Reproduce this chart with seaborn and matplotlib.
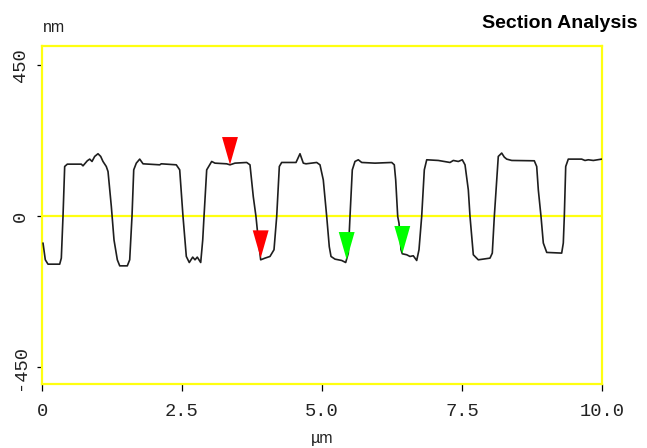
import matplotlib
matplotlib.use("Agg")
import matplotlib.pyplot as plt
from matplotlib.path import Path
from matplotlib.markers import MarkerStyle
import seaborn as sns
import pandas as pd

# ---- data -------------------------------------------------------------
profile_x = [0.018, 0.059, 0.107, 0.316, 0.345, 0.375, 0.405, 0.452, 0.702, 0.732,
             0.809, 0.852, 0.893, 0.941, 1.000, 1.048, 1.089, 1.148, 1.179, 1.238,
             1.286, 1.345, 1.388, 1.523, 1.566, 1.607, 1.638, 1.684, 1.745, 1.804,
             2.102, 2.130, 2.398, 2.459, 2.518, 2.577, 2.630, 2.691, 2.732, 2.773,
             2.834, 2.870, 2.893, 2.941, 3.030, 3.089, 3.298, 3.357, 3.446, 3.655,
             3.714, 3.773, 3.821, 3.863, 3.905, 3.982, 4.071, 4.143, 4.191, 4.238,
             4.280, 4.536, 4.607, 4.666, 4.714, 4.905, 4.964, 5.023, 5.084, 5.130,
             5.161, 5.232, 5.352, 5.423, 5.470, 5.500, 5.541, 5.589, 5.648, 5.709,
             5.946, 6.245, 6.291, 6.316, 6.352, 6.375, 6.411, 6.434, 6.513, 6.571,
             6.630, 6.691, 6.732, 6.780, 6.827, 6.870, 7.077, 7.286, 7.345, 7.434,
             7.505, 7.554, 7.613, 7.643, 7.702, 7.732, 7.791, 8.000, 8.041, 8.077,
             8.120, 8.148, 8.209, 8.255, 8.298, 8.388, 8.791, 8.834, 8.863, 8.911,
             8.952, 9.013, 9.280, 9.309, 9.327, 9.352, 9.398, 9.637, 9.696, 9.755,
             9.845, 9.995]
profile_nm = [-80, -130, -143, -143, -125, -1, 148, 155, 155, 150,
              165, 170, 163, 178, 186, 178, 163, 148, 133, 29,
              -71, -130, -148, -148, -130, -1, 138, 158, 170, 156,
              153, 156, 153, 138, -1, -120, -138, -122, -130, -122,
              -138, -71, -1, 138, 163, 158, 156, 153, 158, 160,
              153, 58, -1, -71, -130, -125, -120, -100, -1, 148,
              160, 160, 186, 158, 156, 160, 153, 108, -1, -91,
              -120, -128, -132, -138, -110, -1, 138, 163, 168, 160,
              158, 160, 153, 108, -1, -21, -100, -112, -115, -120,
              -118, -132, -100, -1, 138, 168, 166, 160, 166, 163,
              168, 153, 78, -1, -115, -120, -130, -125, -110, -1,
              108, 178, 188, 176, 170, 166, 165, 148, 78, -1,
              -80, -108, -110, -80, -1, 148, 170, 170, 166, 168,
              166, 170]

cursor_x = [3.357, 3.905, 5.441, 6.434]
cursor_nm = [153, -125, -130, -112]
cursor_pair = ["red", "red", "green", "green"]

x_ticks = [0, 2.5, 5.0, 7.5, 10.0]
x_tick_labels = ["0", "2.5", "5.0", "7.5", "10.0"]
y_ticks = [-450, 0, 450]
y_tick_labels = ["-450", "0", "450"]

title_text = "Section Analysis"
y_unit = "nm"
x_unit = "\u00b5m"

# ---- figure ------------------------------------------------------------
sns.set_style("white")
plt.rcParams["font.family"] = ["Liberation Mono", "DejaVu Sans"]

W, H = 647, 448
fig = plt.figure(figsize=(W / 100, H / 100), dpi=100)
fig.patch.set_facecolor("white")
ax = fig.add_axes([42 / W, 1 - 384 / H, 560 / W, 338 / H])
ax.set_facecolor("white")

yellow = "#ffff10"

df = pd.DataFrame({"x": profile_x, "nm": profile_nm})
sns.lineplot(data=df, x="x", y="nm", sort=False, estimator=None,
             color="#1e1e1e", linewidth=1.2, ax=ax, zorder=3)

ax.axhline(0, color=yellow, linewidth=1.6, zorder=2)

# downward triangle with its tip at the data point
tri = MarkerStyle(Path([(-8, 28), (8, 28), (0, 0), (-8, 28)],
                       [Path.MOVETO, Path.LINETO, Path.LINETO, Path.CLOSEPOLY]))
cdf = pd.DataFrame({"x": cursor_x, "nm": cursor_nm, "pair": cursor_pair})
sns.scatterplot(data=cdf, x="x", y="nm", hue="pair",
                palette={"red": "#ff0000", "green": "#00ff00"},
                marker=tri, s=1600, linewidth=0, edgecolor="none",
                legend=False, ax=ax, zorder=4)

ax.set_xlim(0, 10)
ax.set_ylim(-500, 507)

for sp in ax.spines.values():
    sp.set_visible(True)
    sp.set_color(yellow)
    sp.set_linewidth(1.6)

ax.set_xticks(x_ticks)
ax.set_xticklabels(x_tick_labels, fontsize=13.5, family="Liberation Mono")
ax.set_yticks(y_ticks)
ax.set_yticklabels(y_tick_labels, fontsize=13.5, family="Liberation Mono",
                   rotation=90, va="center")
ax.tick_params(axis="x", bottom=True, direction="out", length=5, width=0.9,
               color="black", pad=9, labelcolor="#222222")
ax.tick_params(axis="y", left=True, direction="out", length=3.5, width=0.9,
               color="black", pad=6, labelcolor="#222222")
ax.set_xlabel("")
ax.set_ylabel("")

fig.text(637 / W, 1 - 23 / H, title_text, ha="right", va="center",
         fontsize=14, fontweight="bold", family="Liberation Sans", color="black")
fig.text(54 / W, 1 - 27 / H, y_unit, ha="center", va="center",
         fontsize=11.5, family="Liberation Sans", color="#222222")
fig.text(322 / W, 1 - 438 / H, x_unit, ha="center", va="center",
         fontsize=11.5, family="Liberation Sans", color="#222222")

fig.savefig("out.png", dpi=100, facecolor="white")
